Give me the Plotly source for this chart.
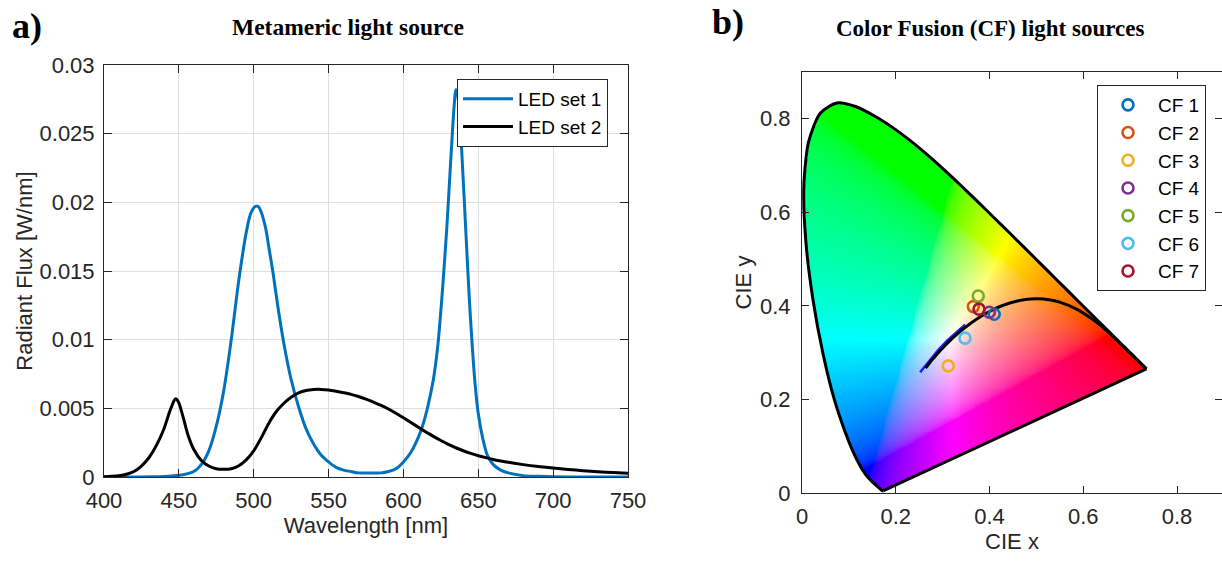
import numpy as np
import plotly.graph_objects as go

W, H = 1222, 561

# ---------------- Panel a) data: spectra ----------------
set1_wl = [400, 410, 420, 430, 435, 440, 445, 450, 455, 460, 465, 470, 475, 480, 485, 490, 495,
           498, 501, 503, 505, 508, 510, 513, 516, 520, 525, 530, 535, 540, 545, 550, 555, 560,
           565, 570, 575, 580, 585, 590, 595, 600, 605, 610, 613, 616, 620, 623, 626, 629, 632,
           634, 635, 636, 638, 640, 642, 644, 646, 648, 650, 653, 656, 660, 665, 670, 680, 690,
           700, 720, 750]
set1_flux = [0.0, 0.0, 0.0, 0.00001, 0.00002, 0.00004, 0.00007, 0.00012, 0.00022, 0.0004,
             0.0009, 0.0019, 0.0037, 0.0063, 0.0100, 0.0143, 0.0178,
             0.0192, 0.0197, 0.0197, 0.0193, 0.0181, 0.0168, 0.0148, 0.0125, 0.0098, 0.0071,
             0.0051, 0.0035, 0.0024, 0.0016, 0.0011, 0.0007, 0.0005,
             0.0004, 0.0003, 0.0003, 0.0003, 0.0003, 0.0004, 0.0006, 0.0011, 0.0018, 0.0029,
             0.0038, 0.0050, 0.0071, 0.0096, 0.0135, 0.0182, 0.0238,
             0.0272, 0.0282, 0.0280, 0.0255, 0.0215, 0.0172, 0.0130, 0.0095, 0.0066, 0.0046,
             0.0028, 0.0016, 0.0009, 0.0005, 0.0003, 0.0001, 0.00005,
             0.00002, 0.0, 0.0]

set2_wl = [400, 405, 410, 415, 420, 425, 430, 435, 440, 444, 447, 448, 450, 453, 456, 460, 465,
           470, 475, 480, 485, 490, 495, 500, 505, 510, 515, 520, 525, 530, 535, 540, 545, 550,
           555, 560, 565, 570, 575, 580, 585, 590, 595, 600, 605, 610, 615, 620, 625, 630, 635,
           640, 645, 650, 655, 660, 665, 670, 680, 690, 700, 710, 720, 730, 740, 750]
set2_flux = [0.00002, 0.00005, 0.0001, 0.0002, 0.0004, 0.0008, 0.0014, 0.0023, 0.0035, 0.0048,
             0.0056, 0.0057, 0.0054, 0.0043, 0.0031, 0.0020, 0.0012,
             0.0008, 0.0006, 0.00056, 0.0006, 0.00082, 0.00125, 0.0019, 0.00285, 0.0039, 0.00475,
             0.00535, 0.0058, 0.00612, 0.0063, 0.00637, 0.00638, 0.00634,
             0.00625, 0.00614, 0.00602, 0.00586, 0.00567, 0.00546, 0.00522, 0.00495, 0.00464,
             0.00431, 0.00397, 0.00362, 0.00328, 0.00296, 0.00266, 0.00238, 0.00213,
             0.00191, 0.00172, 0.00155, 0.00141, 0.00128, 0.00117, 0.00107, 0.0009, 0.00076,
             0.00065, 0.00055, 0.00046, 0.00038, 0.00032, 0.00027]

a_xticks = [400, 450, 500, 550, 600, 650, 700, 750]
a_yticks = [0, 0.005, 0.01, 0.015, 0.02, 0.025, 0.03]
a_yticklabels = ["0", "0.005", "0.01", "0.015", "0.02", "0.025", "0.03"]

# ---------------- Panel b) data: chromaticity ----------------
locus_x = [0.1741, 0.1740, 0.1738, 0.1736, 0.1733, 0.1730, 0.1726, 0.1721, 0.1714, 0.1703,
           0.1689, 0.1669, 0.1644, 0.1611, 0.1566, 0.1510, 0.1440, 0.1355, 0.1241, 0.1096,
           0.0913, 0.0687, 0.0454, 0.0235, 0.0082, 0.0039, 0.0139, 0.0389, 0.0743, 0.1142,
           0.1547, 0.1929, 0.2296, 0.2658, 0.3016, 0.3373, 0.3731, 0.4087, 0.4441, 0.4788,
           0.5125, 0.5448, 0.5752, 0.6029, 0.6270, 0.6482, 0.6658, 0.6801, 0.6915, 0.7006,
           0.7079, 0.7140, 0.7190, 0.7230, 0.7260, 0.7283, 0.7300, 0.7311, 0.7320, 0.7327,
           0.7334, 0.7340, 0.7344, 0.7346, 0.7347]
locus_y = [0.0050, 0.0050, 0.0049, 0.0049, 0.0048, 0.0048, 0.0048, 0.0048, 0.0051, 0.0058,
           0.0069, 0.0086, 0.0109, 0.0138, 0.0177, 0.0227, 0.0297, 0.0399, 0.0578, 0.0868,
           0.1327, 0.2007, 0.2950, 0.4127, 0.5384, 0.6548, 0.7502, 0.8120, 0.8338, 0.8262,
           0.8059, 0.7816, 0.7543, 0.7243, 0.6923, 0.6589, 0.6245, 0.5896, 0.5547, 0.5202,
           0.4866, 0.4544, 0.4242, 0.3965, 0.3725, 0.3514, 0.3340, 0.3197, 0.3083, 0.2993,
           0.2920, 0.2859, 0.2809, 0.2770, 0.2740, 0.2717, 0.2700, 0.2689, 0.2680, 0.2673,
           0.2666, 0.2660, 0.2656, 0.2654, 0.2653]

planck_x = [0.2637, 0.2720, 0.2807, 0.2950, 0.3135, 0.3325, 0.3451, 0.3608, 0.3805, 0.4053,
            0.4369, 0.4770, 0.5052, 0.5267, 0.5496, 0.5857, 0.6251, 0.6528, 0.6909, 0.7077,
            0.7230, 0.7347]
planck_y = [0.2671, 0.2780, 0.2884, 0.3048, 0.3237, 0.3411, 0.3516, 0.3635, 0.3768, 0.3907,
            0.4041, 0.4137, 0.4152, 0.4133, 0.4081, 0.3931, 0.3674, 0.3444, 0.3082, 0.2920,
            0.2769, 0.2653]

daylight_x = [0.252, 0.270, 0.290, 0.310, 0.330, 0.348]
daylight_y = [0.258, 0.281, 0.305, 0.326, 0.345, 0.360]

cf_names = ["CF 1", "CF 2", "CF 3", "CF 4", "CF 5", "CF 6", "CF 7"]
cf_x = [0.410, 0.3655, 0.312, 0.3996, 0.376, 0.3477, 0.3776]
cf_y = [0.382, 0.3985, 0.2717, 0.3865, 0.421, 0.331, 0.393]
cf_colors = ["#0072BD", "#D95319", "#EDB120", "#7E2F8E", "#77AC30", "#4DBEEE", "#A2142F"]

b_ticks = [0, 0.2, 0.4, 0.6, 0.8]
b_ticklabels = ["0", "0.2", "0.4", "0.6", "0.8"]

# ---------------- chromaticity colour image ----------------
step = 0.002
gx = np.arange(0, 0.76, step)
gy = np.arange(0, 0.86, step)
XX, YY = np.meshgrid(gx, gy)
px = np.array(locus_x + [locus_x[0]])
py = np.array(locus_y + [locus_y[0]])
inside = np.zeros(XX.shape, dtype=bool)
for i in range(len(px) - 1):
    x1, y1, x2, y2 = px[i], py[i], px[i + 1], py[i + 1]
    cond = (y1 > YY) != (y2 > YY)
    with np.errstate(divide="ignore", invalid="ignore"):
        xint = x1 + (YY - y1) * (x2 - x1) / (y2 - y1)
    inside ^= cond & (XX < xint)
Ys = np.maximum(YY, 1e-4)
Xc = XX / Ys
Zc = (1 - XX - YY) / Ys
R = 3.2406 * Xc - 1.5372 - 0.4986 * Zc
G = -0.9689 * Xc + 1.8758 + 0.0415 * Zc
B = 0.0557 * Xc - 0.2040 + 1.0570 * Zc
rgb = np.clip(np.stack([R, G, B], axis=-1), 0, None)
mx = rgb.max(axis=-1, keepdims=True)
mx[mx == 0] = 1
rgb = rgb / mx
rgb = np.where(rgb <= 0.0031308, 12.92 * rgb, 1.055 * np.power(rgb, 1 / 2.4) - 0.055)
img = np.zeros(XX.shape + (4,), dtype=np.uint8)
img[..., :3] = np.clip(np.round(rgb * 255), 0, 255).astype(np.uint8)
img[..., 3] = inside.astype(np.uint8)

# ---------------- figure ----------------
FONT = "Liberation Sans, Arial, Helvetica, sans-serif"
SERIF = "Liberation Serif, Times New Roman, serif"
AXC = "#262626"

fig = go.Figure()

fig.add_trace(go.Scatter(x=set1_wl, y=set1_flux, mode="lines", name="LED set 1",
                         line=dict(color="#0072BD", width=3, shape="spline", smoothing=0.8),
                         xaxis="x", yaxis="y", legend="legend"))
fig.add_trace(go.Scatter(x=set2_wl, y=set2_flux, mode="lines", name="LED set 2",
                         line=dict(color="black", width=3, shape="spline", smoothing=0.6),
                         xaxis="x", yaxis="y", legend="legend"))

fig.add_trace(go.Image(z=img, colormodel="rgba", x0=0, dx=step, y0=0, dy=step,
                       xaxis="x2", yaxis="y2", hoverinfo="skip"))
fig.add_trace(go.Scatter(x=locus_x, y=locus_y, mode="lines",
                         line=dict(color="black", width=3, shape="spline", smoothing=0.7),
                         showlegend=False, xaxis="x2", yaxis="y2", hoverinfo="skip"))
fig.add_trace(go.Scatter(x=[locus_x[-1], locus_x[0]], y=[locus_y[-1], locus_y[0]], mode="lines",
                         line=dict(color="black", width=3),
                         showlegend=False, xaxis="x2", yaxis="y2", hoverinfo="skip"))
fig.add_trace(go.Scatter(x=daylight_x, y=daylight_y, mode="lines",
                         line=dict(color="#1a1aff", width=2.5), showlegend=False,
                         xaxis="x2", yaxis="y2"))
fig.add_trace(go.Scatter(x=planck_x, y=planck_y, mode="lines",
                         line=dict(color="black", width=3, shape="spline", smoothing=0.8),
                         showlegend=False, xaxis="x2", yaxis="y2"))
for n, xv, yv, c in zip(cf_names, cf_x, cf_y, cf_colors):
    fig.add_trace(go.Scatter(x=[xv], y=[yv], mode="markers", name=n,
                             marker=dict(symbol="circle-open", size=11, color=c,
                                         line=dict(width=2.6, color=c)),
                             xaxis="x2", yaxis="y2", legend="legend2"))

tickfont = dict(family=FONT, size=22, color=AXC)
titlefont = dict(family=FONT, size=22, color=AXC)
axis_common = dict(showline=True, linecolor=AXC, linewidth=1, mirror="ticks",
                   ticks="inside", tickcolor=AXC, tickfont=tickfont, zeroline=False,
                   automargin=False)

fig.update_layout(
    width=W, height=H, margin=dict(l=0, r=0, t=0, b=0, autoexpand=False),
    paper_bgcolor="white", plot_bgcolor="white",
    xaxis=dict(domain=[104 / W, 628 / W], range=[400, 750], tickvals=a_xticks,
               showgrid=True, gridcolor="#dfdfdf", gridwidth=1, ticklen=8,
               ticklabelstandoff=4,
               title=dict(text="Wavelength [nm]", font=titlefont, standoff=4),
               anchor="y", **axis_common),
    yaxis=dict(domain=[1 - 477 / H, 1 - 65 / H], range=[0, 0.03], tickvals=a_yticks,
               ticktext=a_yticklabels, showgrid=True, gridcolor="#dfdfdf", gridwidth=1,
               ticklen=8, ticklabelstandoff=4,
               title=dict(text="Radiant Flux [W/nm]", font=titlefont, standoff=0),
               anchor="x", **axis_common),
    xaxis2=dict(domain=[802 / W, 1.0], range=[0, 420 / 468.75], tickvals=b_ticks,
                ticktext=b_ticklabels, showgrid=False, ticklen=7, ticklabelstandoff=4,
                title=dict(text="CIE x", font=titlefont, standoff=4),
                anchor="y2", **axis_common),
    yaxis2=dict(domain=[1 - 493 / H, 1 - 72 / H], range=[0, 0.9], tickvals=b_ticks,
                ticktext=b_ticklabels, showgrid=False, ticklen=7, ticklabelstandoff=6,
                autorange=False, scaleanchor=False,
                title=dict(text="CIE y", font=titlefont, standoff=2),
                anchor="x2", **axis_common),
    legend=dict(x=457 / W, y=1 - 79 / H, xanchor="left", yanchor="top",
                bgcolor="white", bordercolor=AXC, borderwidth=1, itemwidth=50,
                font=dict(family=FONT, size=19, color="black"), tracegroupgap=0),
    legend2=dict(x=1097 / W, y=1 - 85 / H, xanchor="left", yanchor="top",
                 bgcolor="white", bordercolor=AXC, borderwidth=1, itemwidth=50,
                 font=dict(family=FONT, size=19, color="black"), tracegroupgap=0),
    showlegend=True,
)

ann = [
    dict(text="<b>a)</b>", x=27 / W, y=1 - 26 / H, size=36),
    dict(text="<b>Metameric light source</b>", x=348 / W, y=1 - 27 / H, size=23.5),
    dict(text="<b>b)</b>", x=728 / W, y=1 - 22 / H, size=36),
    dict(text="<b>Color Fusion (CF) light sources</b>", x=990 / W, y=1 - 28 / H, size=23),
]
for a in ann:
    fig.add_annotation(text=a["text"], x=a["x"], y=a["y"], xref="paper", yref="paper",
                       xanchor="center", yanchor="middle", showarrow=False,
                       font=dict(family=SERIF, size=a["size"], color="black"))

fig.write_html("out.html", config={"displayModeBar": False},
               post_script="document.body.style.margin='0';document.body.style.overflow='hidden';")
